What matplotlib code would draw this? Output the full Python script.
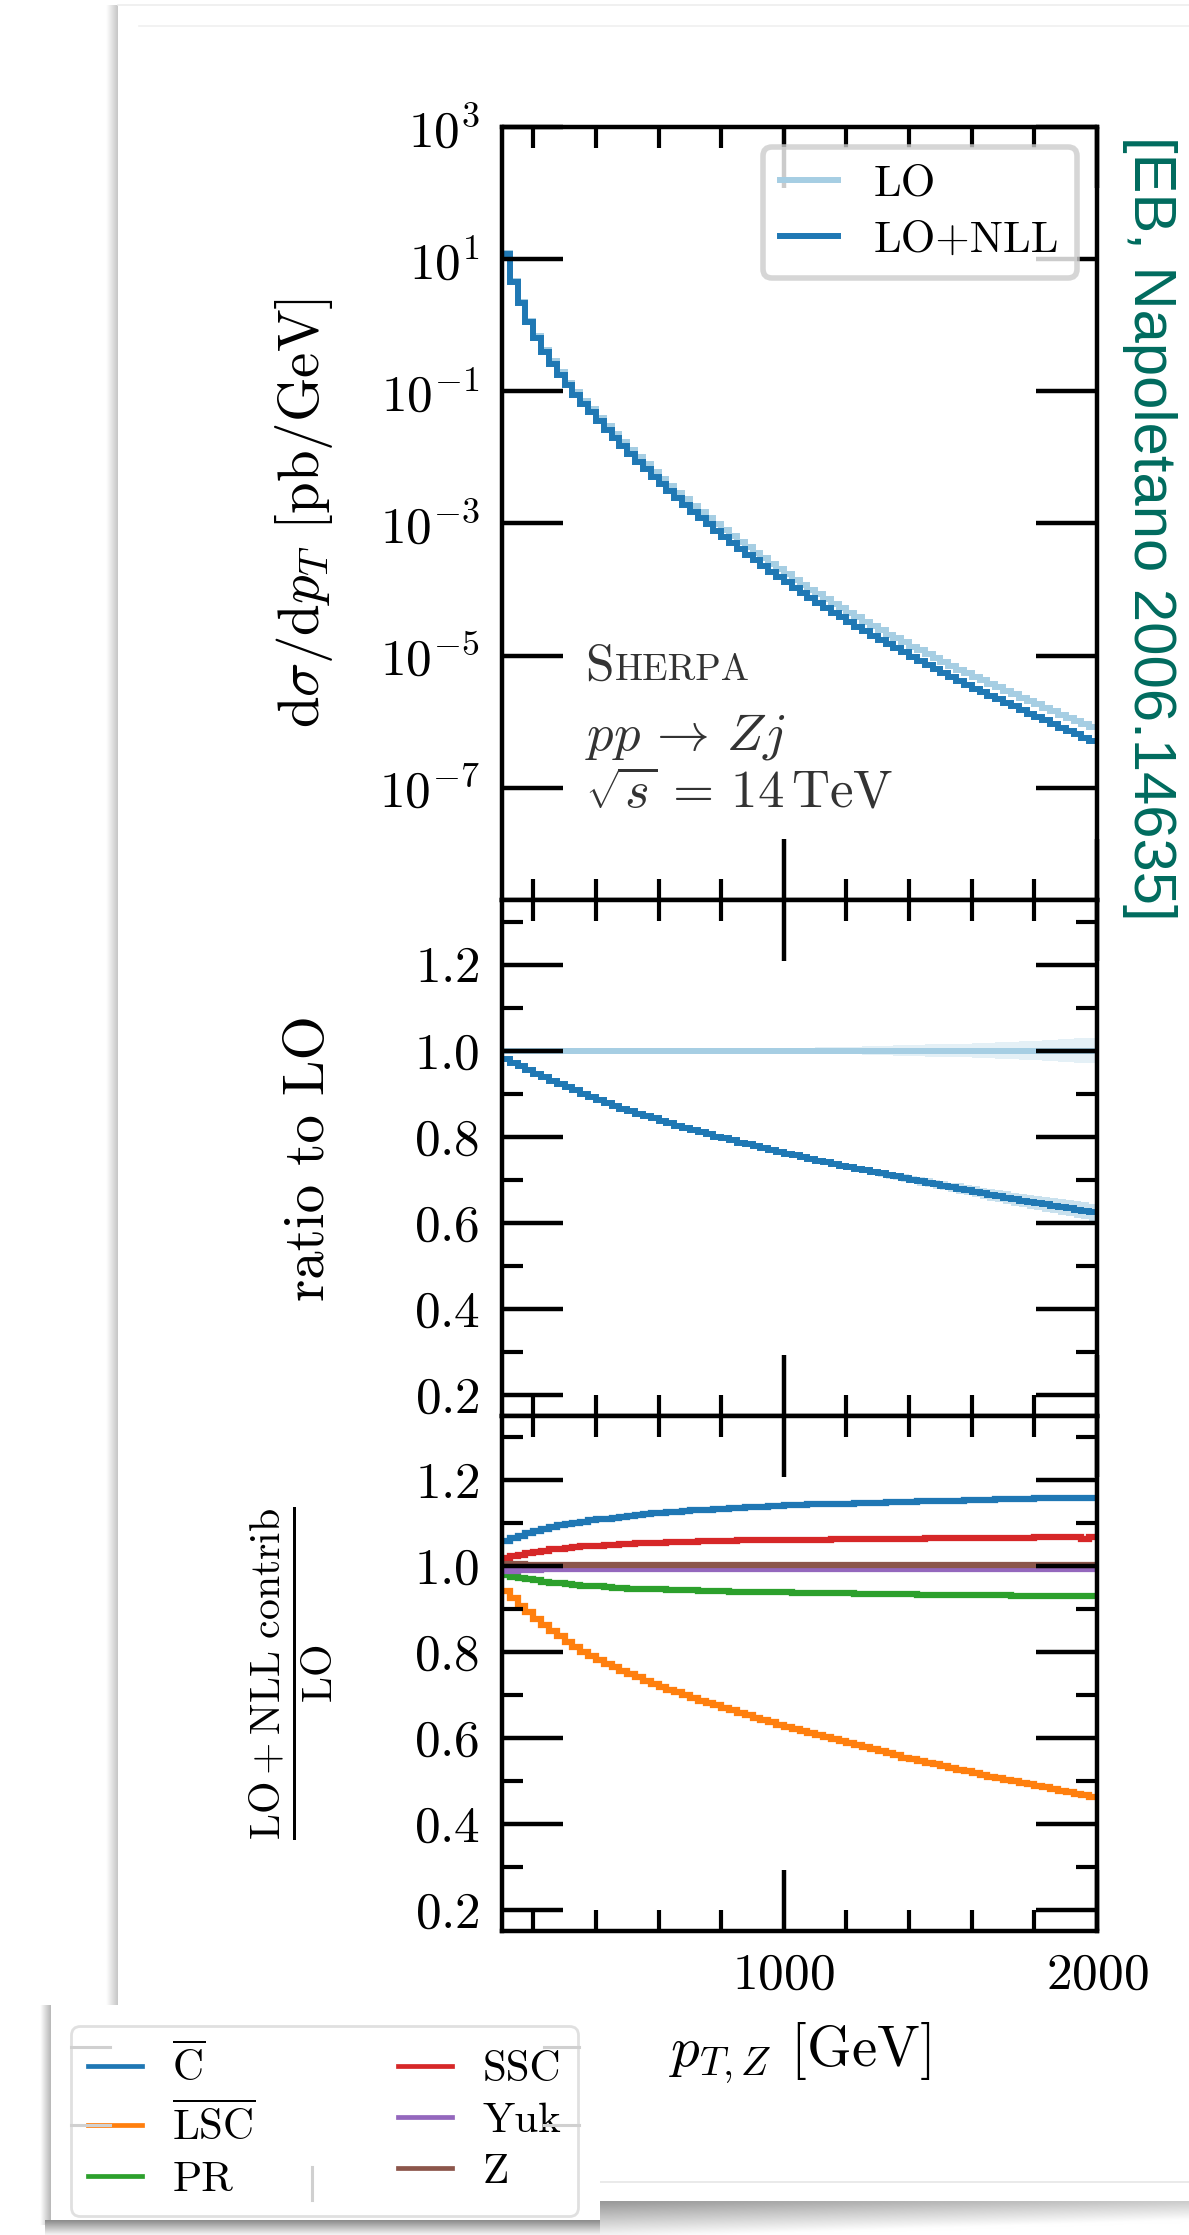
import matplotlib
matplotlib.use('Agg')
import matplotlib.pyplot as plt
import numpy as np
from matplotlib.patches import Rectangle
from matplotlib.lines import Line2D
from matplotlib.ticker import MultipleLocator, FixedLocator, NullLocator, LogFormatterSciNotation

plt.rcParams['font.family'] = 'serif'
plt.rcParams['font.serif'] = ['cmr10']
plt.rcParams['mathtext.fontset'] = 'cm'
plt.rcParams['axes.formatter.use_mathtext'] = True

# Data: pT bins of 25 GeV from 100 to 2000 GeV (one row below = 200 GeV)
pt_edges = np.arange(100, 2001, 25)

# log10 of LO+NLL cross section in pb/GeV
xs_nll_log10 = [1.08, 0.66, 0.33, 0.05, -0.19, -0.40, -0.58, -0.75,
                -0.91, -1.05, -1.19, -1.32, -1.45, -1.58, -1.71, -1.83,
                -1.95, -2.07, -2.18, -2.29, -2.40, -2.51, -2.62, -2.72,
                -2.82, -2.92, -3.01, -3.11, -3.20, -3.29, -3.38, -3.47,
                -3.56, -3.64, -3.73, -3.81, -3.89, -3.97, -4.05, -4.13,
                -4.20, -4.28, -4.35, -4.42, -4.49, -4.56, -4.63, -4.70,
                -4.76, -4.83, -4.89, -4.95, -5.02, -5.08, -5.14, -5.20,
                -5.26, -5.32, -5.38, -5.44, -5.50, -5.55, -5.61, -5.66,
                -5.72, -5.77, -5.83, -5.88, -5.93, -5.98, -6.04, -6.09,
                -6.14, -6.19, -6.24, -6.29]

# LO+NLL / LO
ratio_nll = [0.981, 0.972, 0.963, 0.954, 0.946, 0.938, 0.930, 0.923,
             0.915, 0.908, 0.900, 0.893, 0.885, 0.878, 0.872, 0.865,
             0.859, 0.853, 0.847, 0.842, 0.836, 0.831, 0.825, 0.820,
             0.815, 0.810, 0.805, 0.800, 0.796, 0.791, 0.786, 0.782,
             0.777, 0.773, 0.769, 0.764, 0.760, 0.756, 0.752, 0.748,
             0.744, 0.740, 0.736, 0.732, 0.728, 0.725, 0.721, 0.717,
             0.714, 0.710, 0.707, 0.703, 0.700, 0.696, 0.693, 0.689,
             0.686, 0.682, 0.679, 0.675, 0.672, 0.668, 0.665, 0.661,
             0.658, 0.654, 0.651, 0.648, 0.645, 0.642, 0.639, 0.636,
             0.633, 0.630, 0.627, 0.624]

# statistical bands (ratio units)
lo_err = [0.001, 0.001, 0.001, 0.001, 0.001, 0.001, 0.001, 0.001,
          0.001, 0.001, 0.001, 0.001, 0.001, 0.001, 0.001, 0.001,
          0.002, 0.002, 0.002, 0.002, 0.002, 0.002, 0.002, 0.002,
          0.002, 0.002, 0.002, 0.002, 0.003, 0.003, 0.003, 0.003,
          0.004, 0.004, 0.004, 0.004, 0.005, 0.005, 0.006, 0.006,
          0.007, 0.007, 0.008, 0.008, 0.009, 0.009, 0.010, 0.010,
          0.011, 0.011, 0.012, 0.012, 0.013, 0.013, 0.014, 0.014,
          0.015, 0.015, 0.016, 0.016, 0.017, 0.017, 0.018, 0.019,
          0.020, 0.020, 0.021, 0.022, 0.023, 0.024, 0.025, 0.026,
          0.027, 0.028, 0.029, 0.030]
nll_err = [0.001, 0.001, 0.001, 0.001, 0.001, 0.001, 0.001, 0.001,
           0.001, 0.001, 0.001, 0.001, 0.001, 0.001, 0.001, 0.001,
           0.001, 0.001, 0.001, 0.001, 0.001, 0.001, 0.001, 0.001,
           0.002, 0.002, 0.002, 0.002, 0.002, 0.002, 0.002, 0.002,
           0.002, 0.002, 0.003, 0.003, 0.003, 0.003, 0.004, 0.004,
           0.004, 0.005, 0.005, 0.006, 0.006, 0.006, 0.007, 0.007,
           0.008, 0.008, 0.008, 0.009, 0.009, 0.010, 0.010, 0.011,
           0.011, 0.011, 0.012, 0.012, 0.013, 0.013, 0.014, 0.014,
           0.015, 0.015, 0.016, 0.016, 0.017, 0.017, 0.018, 0.018,
           0.019, 0.019, 0.020, 0.020]

# individual contributions / LO
contrib_names = [r'$\overline{\mathrm{C}}$', r'$\overline{\mathrm{LSC}}$', 'PR', 'SSC', 'Yuk', 'Z']
contrib_colors = ['#1f77b4', '#ff7f0e', '#2ca02c', '#d62728', '#9467bd', '#8c564b']
c_bar = [1.058, 1.065, 1.071, 1.077, 1.083, 1.087, 1.091, 1.095,
         1.098, 1.101, 1.104, 1.107, 1.109, 1.111, 1.113, 1.115,
         1.117, 1.119, 1.121, 1.123, 1.124, 1.126, 1.127, 1.129,
         1.130, 1.131, 1.132, 1.133, 1.134, 1.135, 1.136, 1.137,
         1.138, 1.139, 1.140, 1.141, 1.142, 1.142, 1.143, 1.144,
         1.144, 1.145, 1.145, 1.146, 1.146, 1.147, 1.147, 1.148,
         1.148, 1.149, 1.149, 1.150, 1.150, 1.151, 1.151, 1.152,
         1.152, 1.153, 1.153, 1.154, 1.154, 1.155, 1.155, 1.156,
         1.156, 1.157, 1.157, 1.157, 1.158, 1.158, 1.158, 1.159,
         1.159, 1.159, 1.160, 1.160]
lsc_bar = [0.942, 0.925, 0.908, 0.893, 0.878, 0.863, 0.850, 0.837,
           0.824, 0.812, 0.801, 0.791, 0.781, 0.772, 0.764, 0.756,
           0.748, 0.741, 0.733, 0.726, 0.719, 0.712, 0.706, 0.699,
           0.693, 0.687, 0.681, 0.676, 0.670, 0.664, 0.659, 0.653,
           0.647, 0.642, 0.636, 0.631, 0.626, 0.621, 0.616, 0.611,
           0.607, 0.602, 0.597, 0.592, 0.588, 0.583, 0.578, 0.573,
           0.569, 0.564, 0.559, 0.554, 0.550, 0.546, 0.542, 0.538,
           0.534, 0.530, 0.526, 0.522, 0.518, 0.514, 0.510, 0.506,
           0.503, 0.499, 0.495, 0.492, 0.488, 0.485, 0.481, 0.477,
           0.474, 0.470, 0.467, 0.463]
pr = [0.979, 0.976, 0.973, 0.970, 0.967, 0.964, 0.962, 0.960,
      0.958, 0.957, 0.955, 0.954, 0.953, 0.952, 0.950, 0.949,
      0.948, 0.948, 0.947, 0.946, 0.946, 0.945, 0.945, 0.944,
      0.944, 0.943, 0.943, 0.942, 0.942, 0.941, 0.941, 0.940,
      0.940, 0.940, 0.939, 0.939, 0.939, 0.938, 0.938, 0.938,
      0.938, 0.937, 0.937, 0.937, 0.937, 0.936, 0.936, 0.936,
      0.936, 0.935, 0.935, 0.935, 0.935, 0.934, 0.934, 0.934,
      0.934, 0.933, 0.933, 0.933, 0.933, 0.932, 0.932, 0.932,
      0.932, 0.931, 0.931, 0.931, 0.931, 0.931, 0.930, 0.930,
      0.930, 0.930, 0.930, 0.930]
ssc = [1.019, 1.023, 1.026, 1.030, 1.033, 1.036, 1.039, 1.041,
       1.043, 1.044, 1.046, 1.047, 1.048, 1.049, 1.050, 1.051,
       1.052, 1.053, 1.054, 1.054, 1.055, 1.056, 1.056, 1.057,
       1.057, 1.058, 1.058, 1.058, 1.059, 1.059, 1.060, 1.060,
       1.060, 1.061, 1.061, 1.061, 1.061, 1.062, 1.062, 1.062,
       1.062, 1.062, 1.063, 1.063, 1.063, 1.063, 1.063, 1.063,
       1.064, 1.064, 1.064, 1.064, 1.064, 1.064, 1.065, 1.065,
       1.065, 1.065, 1.065, 1.065, 1.065, 1.066, 1.066, 1.066,
       1.066, 1.066, 1.066, 1.066, 1.067, 1.067, 1.067, 1.067,
       1.067, 1.067, 1.063, 1.067]
yuk = [0.988, 0.990, 0.991, 0.992, 0.992, 0.993, 0.993, 0.993,
       0.993, 0.993, 0.993, 0.993, 0.993, 0.993, 0.993, 0.993,
       0.993, 0.993, 0.993, 0.993, 0.993, 0.993, 0.993, 0.993,
       0.993, 0.993, 0.993, 0.993, 0.993, 0.993, 0.993, 0.993,
       0.994, 0.994, 0.994, 0.994, 0.994, 0.994, 0.994, 0.994,
       0.994, 0.994, 0.994, 0.994, 0.994, 0.994, 0.994, 0.994,
       0.994, 0.994, 0.994, 0.994, 0.994, 0.994, 0.994, 0.994,
       0.994, 0.994, 0.994, 0.994, 0.994, 0.994, 0.994, 0.994,
       0.994, 0.994, 0.994, 0.994, 0.994, 0.994, 0.994, 0.994,
       0.994, 0.994, 0.994, 0.994]
z_ew = [1.004, 1.004, 1.004, 1.003, 1.003, 1.003, 1.003, 1.003,
        1.003, 1.003, 1.003, 1.003, 1.003, 1.003, 1.003, 1.003,
        1.003, 1.003, 1.003, 1.003, 1.003, 1.003, 1.003, 1.003,
        1.003, 1.003, 1.003, 1.003, 1.003, 1.003, 1.003, 1.003,
        1.003, 1.003, 1.003, 1.003, 1.003, 1.003, 1.003, 1.003,
        1.003, 1.003, 1.003, 1.003, 1.003, 1.003, 1.003, 1.003,
        1.003, 1.003, 1.003, 1.003, 1.003, 1.003, 1.003, 1.003,
        1.003, 1.003, 1.003, 1.003, 1.003, 1.003, 1.003, 1.003,
        1.003, 1.003, 1.003, 1.003, 1.003, 1.003, 1.003, 1.003,
        1.003, 1.003, 1.003, 1.003]
contribs = [c_bar, lsc_bar, pr, ssc, yuk, z_ew]

xs_nll = 10.0 ** np.array(xs_nll_log10)
ratio_nll = np.array(ratio_nll)
xs_lo = xs_nll / ratio_nll
ones = np.ones_like(ratio_nll)
lo_err = np.array(lo_err)
nll_err = np.array(nll_err)

c_lo = '#a6cee3'
c_nll = '#1f78b4'

# Figure in pixel units
W, H = 1189, 2235
fig = plt.figure(figsize=(W / 100, H / 100), dpi=100)


def fig_box(x0, y0, x1, y1):
    return [x0 / W, 1 - y1 / H, (x1 - x0) / W, (y1 - y0) / H]


def gradient(x0, y0, x1, y1, img, z):
    a = fig.add_axes(fig_box(x0, y0, x1, y1), zorder=z)
    a.imshow(img, cmap='gray', vmin=0, vmax=1, aspect='auto', interpolation='bicubic')
    a.axis('off')


# page card decorations (behind the plot)
gradient(106, 5, 118, 2005, np.linspace(1.0, 0.78, 16)[None, :], -2)
fig.add_artist(Line2D([118 / W, 1], [1 - 5 / H] * 2, color='#eeeeee', lw=1.2, zorder=-1))
fig.add_artist(Line2D([139 / W, 1], [1 - 26 / H] * 2, color='#f0f0f0', lw=1.2, zorder=-1))
fig.add_artist(Line2D([600 / W, 1], [1 - 2182 / H] * 2, color='#e6e6e6', lw=1.2, zorder=-1))
vert = np.linspace(0.6, 0.95, 20)[:, None]
horiz = np.linspace(0.0, 0.2, 60)[None, :]
gradient(600, 2201, 1189, 2235, np.clip(vert + horiz, 0, 1), -2)

# axes
ax1 = fig.add_axes(fig_box(502, 127, 1097, 900))
ax2 = fig.add_axes(fig_box(502, 900, 1097, 1416), sharex=ax1)
ax3 = fig.add_axes(fig_box(502, 1416, 1097, 1931), sharex=ax1)

# top panel
ax1.stairs(xs_lo, pt_edges, baseline=None, color=c_lo, lw=4.3)
ax1.stairs(xs_nll, pt_edges, baseline=None, color=c_nll, lw=4.3)
ax1.set_yscale('log')
ax1.set_ylim(2e-9, 1e3)
ax1.yaxis.set_major_locator(FixedLocator([1e-7, 1e-5, 1e-3, 1e-1, 1e1, 1e3]))
ax1.yaxis.set_major_formatter(LogFormatterSciNotation())
ax1.yaxis.set_minor_locator(NullLocator())

# middle panel
ax2.stairs(ones + lo_err, pt_edges, baseline=ones - lo_err, fill=True, color=c_lo, alpha=0.3, lw=0)
ax2.stairs(ratio_nll + nll_err, pt_edges, baseline=ratio_nll - nll_err, fill=True, color=c_lo, alpha=0.6, lw=0)
ax2.stairs(ones, pt_edges, baseline=None, color=c_lo, lw=4.3)
ax2.stairs(ratio_nll, pt_edges, baseline=None, color=c_nll, lw=4.3)

# bottom panel
for vals, col in zip(contribs, contrib_colors):
    ax3.stairs(vals, pt_edges, baseline=None, color=col, lw=4.5)

for ax in (ax1, ax2, ax3):
    ax.tick_params(which='both', direction='in', top=True, right=True)
    ax.tick_params(which='major', length=44, width=3.2, labelsize=37, pad=16)
    ax.tick_params(which='minor', length=15, width=3.0)
    for s in ax.spines.values():
        s.set_linewidth(3.2)
ax1.xaxis.set_major_locator(MultipleLocator(1000))
ax1.xaxis.set_minor_locator(MultipleLocator(200))
ax1.set_xlim(100, 2000)
for ax in (ax2, ax3):
    ax.set_ylim(0.15, 1.35)
    ax.yaxis.set_major_locator(MultipleLocator(0.2))
    ax.yaxis.set_minor_locator(MultipleLocator(0.1))
ax1.tick_params(labelbottom=False)
ax2.tick_params(labelbottom=False)

ax1.set_ylabel(r'$\mathrm{d}\sigma/\mathrm{d}p_T$ [pb/GeV]', fontsize=41)
ax2.set_ylabel('ratio to LO', fontsize=41)
ax3.set_ylabel(r'$\frac{\mathrm{LO+NLL\ contrib}}{\mathrm{LO}}$', fontsize=43)
for ax in (ax1, ax2, ax3):
    ax.yaxis.set_label_coords(-0.28, 0.5)
ax3.set_xlabel(r'$p_{T,Z}$ [GeV]', fontsize=41)
ax3.xaxis.set_label_coords(0.5, -0.173)

# process annotation
txt_col = '#333333'
s_big = ax1.text(0.14, 0.285, 'S', transform=ax1.transAxes, fontsize=37, color=txt_col, va='baseline')
rend = fig.canvas.get_renderer()
w_pts = s_big.get_window_extent(renderer=rend).width * 72 / 100
ax1.annotate('HERPA', xy=(0.14, 0.285), xycoords='axes fraction', xytext=(w_pts + 1, 0),
             textcoords='offset points', fontsize=27, color=txt_col, va='baseline')
ax1.text(0.14, 0.195, r'$pp\,\to\,Zj$', transform=ax1.transAxes, fontsize=38, color=txt_col,
         va='baseline')
ax1.text(0.14, 0.119, r'$\sqrt{s}\,=\,14\,\mathrm{TeV}$', transform=ax1.transAxes, fontsize=38,
         color=txt_col, va='baseline')

# top legend
h_top = [Line2D([], [], color=c_lo, lw=4.3), Line2D([], [], color=c_nll, lw=4.3)]
leg1 = ax1.legend(h_top, ['LO', 'LO+NLL'], loc='upper right', fontsize=32, handlelength=1.3,
                  handletextpad=0.8, labelspacing=0.35, borderpad=0.4, borderaxespad=0.45,
                  framealpha=0.8, edgecolor='#cccccc')
leg1.get_frame().set_linewidth(4)

# arXiv stamp
fig.text(1150 / W, 1 - 528 / H, '[EB, Napoletano 2006.14635]', rotation=270, ha='center',
         va='center', fontsize=43, color='#006b5e', family='Liberation Sans')

# pasted legend card at bottom left
gradient(40, 2005, 51, 2225, np.linspace(1.0, 0.72, 16)[None, :], 8)
gradient(45, 2220, 600, 2235, np.linspace(0.55, 0.95, 12)[:, None], 8)
fig.add_artist(Rectangle((51 / W, 1 - 2220 / H), 549 / W, 215 / H, transform=fig.transFigure,
                         facecolor='white', edgecolor='none', zorder=9))
h_bot = [Line2D([], [], color=c, lw=3.4) for c in contrib_colors]
leg2 = fig.legend(h_bot, contrib_names, ncol=2, loc='upper left',
                  bbox_to_anchor=(71 / W, 1 - 2026 / H), borderaxespad=0, fontsize=31,
                  handlelength=1.25, handletextpad=0.7, columnspacing=3.3, labelspacing=0.3,
                  borderpad=0.4, framealpha=1, edgecolor='#e0e0e0')
leg2.get_frame().set_linewidth(2)
leg2.set_zorder(10)
for (xa, xb, ya, yb) in [(71, 110, 2047, 2047), (544, 579, 2047, 2047),
                         (71, 110, 2125, 2125), (544, 579, 2125, 2125),
                         (312, 312, 2167, 2200)]:
    fig.add_artist(Line2D([xa / W, xb / W], [1 - ya / H, 1 - yb / H], color='#d0d0d0',
                          lw=2.2, zorder=11))

fig.savefig('out.png', dpi=100)
